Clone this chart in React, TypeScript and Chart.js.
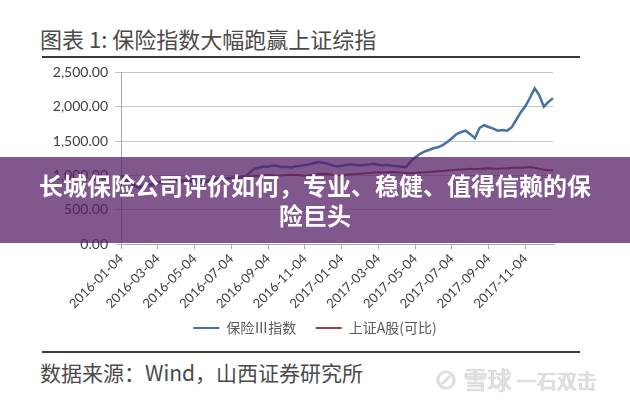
import React, { useEffect, useRef } from "react";
import { Chart, registerables } from "chart.js";

Chart.register(...registerables);

// ---- data ----
const MONTHS = [
  "2016-01", "2016-02", "2016-03", "2016-04", "2016-05", "2016-06",
  "2016-07", "2016-08", "2016-09", "2016-10", "2016-11", "2016-12",
  "2017-01", "2017-02", "2017-03", "2017-04", "2017-05", "2017-06",
  "2017-07", "2017-08", "2017-09", "2017-10", "2017-11", "2017-12",
];
const DAYS = ["04", "11", "19", "26"];

const TICK_LABELS = [
  "2016-01-04", "2016-03-04", "2016-05-04", "2016-07-04", "2016-09-04", "2016-11-04",
  "2017-01-04", "2017-03-04", "2017-05-04", "2017-07-04", "2017-09-04", "2017-11-04",
];

// 保险III指数
const INSURANCE = [
  1000, 930, 870, 840, 820, 850, 870, 860, 880, 900, 910, 930, 940, 930, 920, 940,
  950, 940, 920, 930, 940, 950, 960, 955, 965, 970, 975, 985, 1040,
  1095, 1110, 1130, 1125, 1145, 1135, 1120, 1125, 1115, 1130, 1140, 1150, 1160, 1180,
  1195, 1185, 1170, 1145, 1130, 1140, 1150, 1160, 1150, 1145, 1150, 1160, 1170, 1155,
  1145, 1150, 1140, 1135, 1125, 1120, 1200, 1260, 1310, 1345, 1370, 1395, 1410,
  1440, 1485, 1540, 1600, 1630, 1650, 1600, 1540, 1690, 1730, 1705, 1680, 1650, 1660,
  1650, 1700, 1810, 1920, 2010, 2130, 2270, 2170, 2000, 2070, 2125,
];

// 上证A股(可比)
const SSE_A = [
  1000, 960, 900, 860, 850, 830, 860, 880, 900, 910, 920, 930, 920, 900, 905, 910,
  900, 890, 895, 910, 920, 930, 940, 950, 955, 960, 965, 975, 985,
  990, 995, 1000, 1005, 1000, 995, 1000, 1005, 1010, 1005, 1000, 995, 1000, 1010,
  1020, 1025, 1020, 1010, 1000, 1005, 1010, 1015, 1020, 1025, 1030, 1035, 1040, 1045,
  1040, 1045, 1050, 1045, 1040, 1035, 1030, 1035, 1040, 1045, 1050, 1055, 1060,
  1065, 1070, 1075, 1080, 1085, 1090, 1095, 1090, 1095, 1100, 1105, 1100, 1095, 1100,
  1105, 1110, 1115, 1110, 1115, 1120, 1110, 1095, 1080, 1075, 1070,
];

const LABELS = MONTHS.flatMap((m) => DAYS.map((d) => `${m}-${d}`)).slice(0, INSURANCE.length);
const TICK_SET = new Set(TICK_LABELS);

const SERIES_NAMES = ["保险Ⅲ指数", "上证A股(可比)"];
const COLORS = ["#4272a6", "#a0403f"];

const centerLegendPlugin = {
  id: "centerLegend",
  afterLayout(chart: any) {
    const lg = chart.legend;
    if (lg) {
      lg.left = 0;
      lg.right = chart.width;
      if (lg.adjustHitBoxes) lg.adjustHitBoxes();
    }
  },
};

export default function App() {
  const canvasRef = useRef<HTMLCanvasElement | null>(null);

  useEffect(() => {
    const canvas = canvasRef.current;
    if (!canvas) return;
    const chart = new Chart(canvas, {
      type: "line",
      data: {
        labels: LABELS,
        datasets: [
          {
            label: SERIES_NAMES[0] + "   ",
            data: INSURANCE,
            borderColor: COLORS[0],
            backgroundColor: COLORS[0],
            borderWidth: 2.5,
            pointRadius: 0,
            tension: 0,
          },
          {
            label: SERIES_NAMES[1],
            data: SSE_A,
            borderColor: COLORS[1],
            backgroundColor: COLORS[1],
            borderWidth: 2,
            pointRadius: 0,
            tension: 0,
          },
        ],
      },
      plugins: [centerLegendPlugin],
      options: {
        animation: false,
        responsive: true,
        maintainAspectRatio: false,
        layout: { padding: { top: 5, right: 77, bottom: 0, left: 0 } },
        plugins: {
          tooltip: { enabled: false },
          legend: {
            position: "bottom",
            labels: {
              boxWidth: 26,
              boxHeight: 2,
              padding: 10,
              color: "#595959",
              font: { family: "'Noto Sans CJK SC', sans-serif", size: 14 },
              generateLabels: (ch: any) => {
                const items = Chart.defaults.plugins.legend.labels.generateLabels(ch);
                return items.map((it: any) => ({ ...it, lineWidth: 0 }));
              },
            },
          },
        },
        scales: {
          x: {
            type: "category",
            afterFit: (s: any) => {
              s.height = 67;
            },
            grid: {
              drawOnChartArea: false,
              drawTicks: true,
              tickLength: 5,
              tickColor: (ctx: any) =>
                TICK_SET.has(LABELS[ctx.index]) ? "#a6a6a6" : "rgba(0,0,0,0)",
            },
            border: { display: true, color: "#a6a6a6", width: 1 },
            ticks: {
              autoSkip: false,
              minRotation: 45,
              maxRotation: 45,
              padding: 2,
              color: "#404040",
              font: { family: "Lato, sans-serif", size: 13 },
              callback: (_v: any, idx: number) =>
                TICK_SET.has(LABELS[idx]) ? LABELS[idx] : "",
            },
          },
          y: {
            min: 0,
            max: 2500,
            afterFit: (s: any) => {
              s.width = 121;
            },
            grid: {
              color: "#c4c4c4",
              lineWidth: 1,
              tickLength: 6,
              tickColor: "#c4c4c4",
            },
            border: { display: true, color: "#a6a6a6", width: 1 },
            ticks: {
              stepSize: 500,
              padding: 7,
              color: "#404040",
              font: { family: "Lato, sans-serif", size: 14 },
              callback: (v: any) =>
                Number(v).toLocaleString("en-US", {
                  minimumFractionDigits: 2,
                  maximumFractionDigits: 2,
                }),
            },
          },
        },
      },
    });
    return () => chart.destroy();
  }, []);

  const cjk = "'Noto Sans CJK SC', sans-serif";

  return (
    <div
      style={{
        position: "fixed",
        left: 0,
        top: 0,
        width: 630,
        height: 400,
        background: "#ffffff",
        overflow: "hidden",
      }}
    >
      <div
        style={{
          position: "absolute",
          left: 40,
          top: 23,
          fontFamily: cjk,
          fontSize: 22,
          color: "#4a4a4a",
          whiteSpace: "nowrap",
          lineHeight: "30px",
        }}
      >
        图表 1: 保险指数大幅跑赢上证综指
      </div>
      <div
        style={{
          position: "absolute",
          left: 42,
          top: 56,
          width: 538,
          height: 2,
          background: "#3a3a3a",
        }}
      />
      <div style={{ position: "absolute", left: 0, top: 57, width: 630, height: 288 }}>
        <canvas ref={canvasRef} />
      </div>
      <div
        style={{
          position: "absolute",
          left: 42,
          top: 351,
          width: 538,
          height: 2,
          background: "#3a3a3a",
        }}
      />
      <div
        style={{
          position: "absolute",
          left: 40,
          top: 357,
          fontFamily: cjk,
          fontSize: 21,
          color: "#4a4a4a",
          whiteSpace: "nowrap",
          lineHeight: "30px",
        }}
      >
        数据来源：Wind，山西证券研究所
      </div>
      <div
        style={{
          position: "absolute",
          left: 434,
          top: 364,
          fontFamily: cjk,
          fontSize: 24,
          color: "#e4e4e4",
          whiteSpace: "nowrap",
          lineHeight: "30px",
          textShadow: "0 0 1px #9a9a9a",
        }}
      >
        ⊘ 雪球 <span style={{ fontSize: 20 }}>一石双击</span>
      </div>
      <div
        style={{
          position: "absolute",
          left: 0,
          top: 157,
          width: 630,
          height: 86,
          background: "rgba(86, 32, 103, 0.75)",
          color: "#ffffff",
          fontFamily: cjk,
          fontWeight: 700,
          fontSize: 24,
          lineHeight: "30px",
          textAlign: "center",
          display: "flex",
          flexDirection: "column",
          justifyContent: "center",
          zIndex: 2,
        }}
      >
        <div style={{ whiteSpace: "nowrap" }}>长城保险公司评价如何，专业、稳健、值得信赖的保</div>
        <div style={{ whiteSpace: "nowrap" }}>险巨头</div>
      </div>
    </div>
  );
}
